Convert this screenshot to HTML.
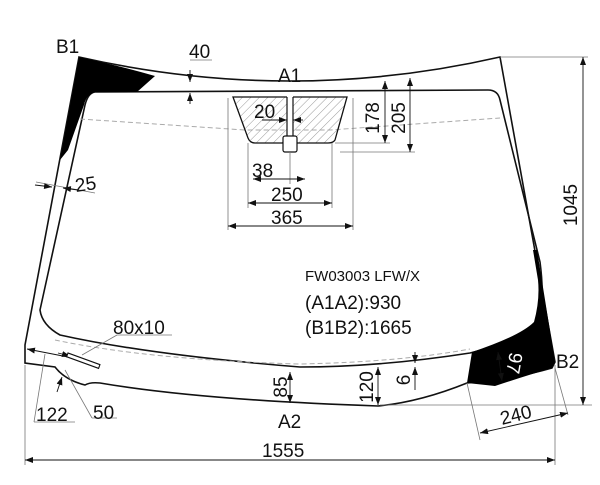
<!DOCTYPE html><html><head><style>body{margin:0;background:#fff}svg{display:block}text{font-family:"Liberation Sans",sans-serif;fill:#111}</style></head><body>
<svg width="600" height="485" viewBox="0 0 600 485" xmlns="http://www.w3.org/2000/svg">
<defs>
<pattern id="h" width="6" height="6" patternUnits="userSpaceOnUse" patternTransform="rotate(45)"><line x1="0" y1="0" x2="0" y2="6" stroke="#999" stroke-width="1"/></pattern>
<marker id="a" markerWidth="8" markerHeight="6" refX="8" refY="3" orient="auto-start-reverse" markerUnits="userSpaceOnUse"><path d="M0,0L8,3L0,6z" fill="#111"/></marker>
</defs>
<g fill="none" stroke="#111" stroke-width="1.6">
<path d="M79,57 Q290,105 500,57 L555,362 L552,368 Q510,380 467,383 Q420,402 378,406 Q200,400 100,383 Q90,382 85,385 Q65,380 55,367 L25,363 L25,345 Z"/>
<path d="M95,92 L488,90 Q498,90 500,100 L540,262 Q545,300 538,318 Q525,340 470,353 Q380,367 300,367 Q150,355 60,335 Q42,325 40,310 L85,105 Q88,93 95,92 Z"/>
</g>
<path d="M79,57 Q120,66 155,76 L137,92 L95,92 Q86,95 84,105 L68,150 L60,160 Z" fill="#000"/>
<path d="M533,250 L537,250 L555,362 L552,368 Q525,376 495,386 L467,383 L472,352 Q520,336 534,322 Q540,300 538,280 Z" fill="#000"/>
<g fill="none" stroke="#aaa" stroke-width="1" stroke-dasharray="5,3">
<path d="M80,119 L245,130 L330,130 L500,118"/>
<path d="M55,340 Q150,360 300,364 Q400,362 470,349"/>
</g>
<path d="M233,97 L347,97 L335,140 Q333,143 328,143 L255,143 Q250,143 248,138 Z" fill="url(#h)" stroke="#111" stroke-width="1.3"/>
<rect x="287" y="96" width="6" height="42" fill="#fff"/>
<g stroke="#111" stroke-width="1.2" fill="#fff"><line x1="287" y1="97" x2="287" y2="137"/><line x1="293" y1="97" x2="293" y2="137"/><rect x="283" y="136" width="14" height="16" rx="2"/></g>
<g stroke="#777" stroke-width="0.8" fill="none">
<line x1="228" y1="98" x2="228" y2="230"/><line x1="248" y1="143" x2="248" y2="208"/><line x1="332" y1="143" x2="332" y2="208"/><line x1="353" y1="98" x2="353" y2="230"/>
<line x1="290" y1="152" x2="290" y2="184"/>
<line x1="335" y1="143" x2="390" y2="143"/><line x1="340" y1="152" x2="415" y2="152"/>
<line x1="190" y1="60" x2="212" y2="60"/>
<line x1="500" y1="57" x2="588" y2="57"/><line x1="380" y1="405" x2="592" y2="405"/>
<line x1="25" y1="365" x2="25" y2="465"/><line x1="555" y1="365" x2="555" y2="465"/>
<line x1="45" y1="354" x2="34" y2="422"/><line x1="34" y1="422" x2="75" y2="422"/>
<line x1="65" y1="370" x2="92" y2="418"/><line x1="92" y1="418" x2="117" y2="418"/>
<line x1="82" y1="355" x2="117" y2="335"/><line x1="117" y1="335" x2="172" y2="335"/>
<line x1="467" y1="383" x2="480" y2="440"/><line x1="555" y1="368" x2="568" y2="415"/>
<line x1="36" y1="182" x2="95" y2="193"/>
</g>
<g stroke="#111" stroke-width="0.9" fill="none">
<line x1="190" y1="70" x2="190" y2="82" marker-end="url(#a)"/><line x1="190" y1="104" x2="190" y2="93" marker-end="url(#a)"/>
<line x1="262" y1="120" x2="287" y2="120" marker-end="url(#a)"/><line x1="303" y1="120" x2="293" y2="120" marker-end="url(#a)"/>
<line x1="253" y1="179" x2="305" y2="179" marker-start="url(#a)" marker-end="url(#a)"/>
<line x1="248" y1="203" x2="332" y2="203" marker-start="url(#a)" marker-end="url(#a)"/>
<line x1="228" y1="226" x2="353" y2="226" marker-start="url(#a)" marker-end="url(#a)"/>
<line x1="385" y1="81" x2="385" y2="143" marker-start="url(#a)" marker-end="url(#a)"/>
<line x1="410" y1="78" x2="410" y2="152" marker-start="url(#a)" marker-end="url(#a)"/>
<line x1="583" y1="57" x2="583" y2="405" marker-start="url(#a)" marker-end="url(#a)"/>
<line x1="25" y1="460" x2="555" y2="460" marker-start="url(#a)" marker-end="url(#a)"/>
<line x1="35" y1="185" x2="52" y2="187" marker-end="url(#a)"/><line x1="78" y1="190" x2="63" y2="188" marker-end="url(#a)"/>
<line x1="290" y1="372" x2="290" y2="403" marker-start="url(#a)" marker-end="url(#a)"/>
<line x1="378" y1="367" x2="378" y2="405" marker-start="url(#a)" marker-end="url(#a)"/>
<line x1="415" y1="352" x2="415" y2="363" marker-end="url(#a)"/><line x1="415" y1="390" x2="415" y2="367" marker-end="url(#a)"/>
<line x1="27" y1="349" x2="68" y2="357" marker-start="url(#a)"/>
<line x1="57" y1="392" x2="62" y2="377" marker-end="url(#a)"/>
<line x1="58" y1="353" x2="70" y2="356" marker-end="url(#a)"/>
<line x1="480" y1="433" x2="568" y2="413" marker-start="url(#a)" marker-end="url(#a)"/>
<line x1="498" y1="352" x2="502" y2="381" marker-start="url(#a)" marker-end="url(#a)"/>
</g>
<rect x="68" y="353" width="34" height="4" transform="rotate(20 68 353)" fill="#fff" stroke="#111" stroke-width="1.1"/>
<g font-size="19">
<text x="56" y="53">B1</text><text x="189" y="58">40</text><text x="278" y="82">A1</text>
<text x="254" y="118">20</text><text x="252" y="177">38</text><text x="271" y="201">250</text><text x="271" y="224">365</text>
<text x="76" y="192" transform="rotate(-8 76 192)">25</text>
<text x="556" y="368">B2</text><text x="278" y="428">A2</text><text x="262" y="457">1555</text>
<text x="113" y="334">80x10</text><text x="36" y="421">122</text><text x="93" y="419">50</text>
<text x="502" y="425" transform="rotate(-14 502 425)">240</text>
<text x="305" y="309">(A1A2):930</text><text x="305" y="334">(B1B2):1665</text>
<text x="379" y="118" transform="rotate(-90 379 118)" text-anchor="middle">178</text>
<text x="405" y="118" transform="rotate(-90 405 118)" text-anchor="middle">205</text>
<text x="577" y="205" transform="rotate(-90 577 205)" text-anchor="middle">1045</text>
<text x="287" y="387" transform="rotate(-90 287 387)" text-anchor="middle">85</text>
<text x="373" y="387" transform="rotate(-90 373 387)" text-anchor="middle">120</text>
<text x="410" y="380" transform="rotate(-90 410 380)" text-anchor="middle">6</text>
<text x="508" y="362" transform="rotate(100 508 362)" text-anchor="middle" style="fill:#fff">97</text>
</g>
<text x="305" y="281" font-size="15">FW03003 LFW/X</text>
</svg></body></html>
